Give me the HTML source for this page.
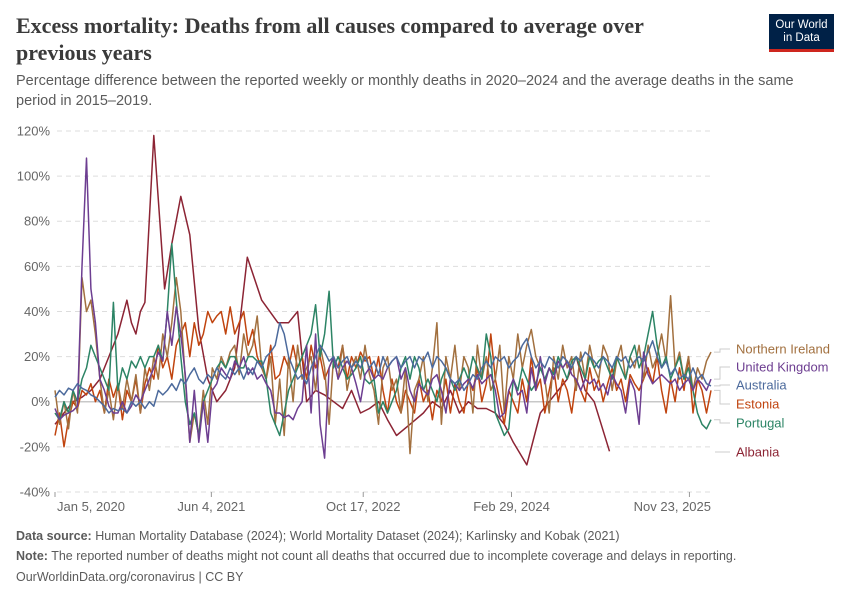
<!DOCTYPE html>
<html><head><meta charset="utf-8"><style>
body{margin:0;background:#fff;width:850px;height:600px;overflow:hidden;font-family:"Liberation Sans",sans-serif;}
.t{position:absolute;}
</style></head><body>
<div class="t" style="left:16px;top:12px;width:670px;font-family:'Liberation Serif',serif;font-weight:bold;font-size:22px;line-height:27px;color:#3a3a3a">Excess mortality: Deaths from all causes compared to average over previous years</div>
<div class="t" style="left:16px;top:72px;width:800px;font-size:14.5px;line-height:19.5px;color:#5b5b5b">Percentage difference between the reported weekly or monthly deaths in 2020–2024 and the average deaths in the same period in 2015–2019.</div>
<div class="t" style="left:769px;top:14px;width:65px;height:38px;background:#002147;border-bottom:3px solid #ce261e;box-sizing:border-box;color:#fff;font-size:11.5px;line-height:13px;text-align:center;padding-top:5px">Our World<br>in Data</div>
<svg class="t" style="left:0;top:0" width="850" height="600" id="chart"></svg>
<div class="t" style="left:16px;top:529px;font-size:12.5px;color:#5b5b5b"><b>Data source:</b> Human Mortality Database (2024); World Mortality Dataset (2024); Karlinsky and Kobak (2021)</div>
<div class="t" style="left:16px;top:549px;font-size:12.5px;color:#5b5b5b"><b>Note:</b> The reported number of deaths might not count all deaths that occurred due to incomplete coverage and delays in reporting.</div>
<div class="t" style="left:16px;top:570px;font-size:12.5px;color:#5b5b5b">OurWorldinData.org/coronavirus | CC BY</div>
<script>
const yTicks=[120,100,80,60,40,20,0,-20,-40];
const xTickLabels=["Jan 5, 2020","Jun 4, 2021","Oct 17, 2022","Feb 29, 2024","Nov 23, 2025"];
const xTickMonths=[0,17.4,34.3,50.8,70.6];
const seriesNames=["Albania","Estonia","Northern Ireland","Portugal","United Kingdom","Australia"];
const ukValues=[-3,-8,-6,-5,-4,-2,60,108,50,35,10,5,-2,-5,-5,0,-5,-2,3,0,5,10,15,22,18,40,25,42,30,12,-18,5,-18,0,-18,5,8,15,12,10,18,15,20,12,15,10,12,8,5,-5,-5,-7,-6,-8,-3,0,25,-5,30,-10,-25,15,20,10,15,18,15,8,0,12,15,10,12,10,15,18,20,10,15,5,0,8,5,3,10,12,5,-5,10,8,5,8,10,6,12,8,10,12,5,-7,-5,5,10,3,5,-5,15,5,20,8,15,10,18,15,18,12,10,5,10,8,10,5,8,3,12,8,5,-5,10,5,-10,22,12,8,10,12,10,8,10,5,8,10,5,10,8,5,10];
const niValues=[5,-10,0,-12,5,-5,55,40,45,30,10,-5,5,-8,8,-3,10,0,12,-5,15,5,20,10,30,20,35,55,40,10,-18,-5,-15,5,-10,15,10,20,15,22,25,12,30,20,25,38,15,10,20,-10,10,-15,20,0,25,10,15,20,5,25,15,-10,20,10,25,5,15,20,10,25,12,5,-10,15,20,5,10,-5,15,-23,5,10,20,0,15,35,-10,20,10,25,5,20,15,-5,25,10,20,5,10,25,-5,20,10,30,15,25,32,20,15,10,-5,20,10,25,15,20,5,22,10,25,15,10,25,20,5,18,25,10,20,15,25,10,25,15,20,30,18,47,15,22,10,20,5,15,10,18,22];
const estoniaValues=[-15,-5,-20,-8,0,-3,5,3,8,0,5,-5,10,2,8,-8,5,0,10,-5,8,15,10,25,15,20,10,25,30,35,20,35,25,30,40,35,38,40,30,42,30,35,40,25,32,20,15,10,25,10,12,20,15,25,15,20,10,25,15,20,10,15,20,15,25,10,20,15,22,18,20,10,20,5,-5,10,0,-5,5,0,-5,10,0,5,-8,5,0,10,-5,8,0,-5,10,5,15,0,8,30,10,0,-10,5,0,-5,10,0,20,5,10,-5,5,15,0,10,5,-5,10,5,0,15,5,10,0,8,15,5,10,0,12,8,5,10,15,8,20,5,-5,10,0,15,5,20,-5,10,5,-5,5];
const portugalValues=[-5,-8,0,-5,5,0,10,15,25,20,15,10,5,44,5,15,10,18,15,20,15,20,20,25,18,40,70,45,20,0,-10,-5,-15,0,5,10,15,18,15,20,20,15,15,20,20,18,18,10,-5,-10,-15,-5,5,10,15,20,25,30,43,20,30,49,15,20,15,10,12,15,20,10,8,10,-5,0,-5,0,5,15,20,10,20,15,5,10,5,0,10,15,10,5,10,15,10,20,15,10,30,20,-5,-10,-15,-12,10,5,15,10,5,8,15,10,15,12,20,15,10,18,20,15,10,20,15,18,20,15,10,20,15,10,20,25,15,20,30,40,25,15,20,10,15,20,10,15,5,-5,-10,-12,-8];
const australiaValues=[2,5,3,6,5,8,6,5,3,2,0,-2,-5,-3,-4,-3,-5,0,-2,0,-3,0,-2,5,3,5,8,5,10,8,12,15,10,8,12,10,15,12,10,15,12,15,10,15,12,18,15,20,22,25,35,30,20,15,10,12,8,15,20,25,22,18,20,15,18,20,15,18,15,20,15,18,12,20,15,18,20,15,18,20,15,20,18,22,15,20,18,15,10,8,10,5,8,12,10,15,18,15,20,18,20,15,18,20,25,28,20,15,18,15,20,18,15,20,18,15,20,18,22,20,18,15,20,18,15,20,18,20,15,18,20,18,22,27,20,15,18,12,15,10,12,10,15,10,12,8,7];
const albaniaMonths=[0,1,2,3,4,5,6,7,8,8.5,9,9.5,10,11,12.2,13,14,15,16,17,18,19,20,21.4,23,24.8,26,27,28,29,30,31,32,33,34,35,36,37,38,39.5,41,42,43,44,45,46,47,48,49,50,51,52.5,54,55,56,57,58,59,60,61.7];
const albaniaValues=[-10,-5,0,2,5,10,20,30,45,35,30,40,44,118,50,70,91,74,32,10,0,5,15,64,45,35,35,40,0,5,3,0,-3,5,-5,-3,0,-8,-15,-10,-5,0,-3,5,-5,0,-3,-3,-5,-10,-18,-28,-5,0,5,10,20,5,0,-22];
const weeklyStep=0.5;
const labelY=[452,404,349,423,367,385];
const colors=["#8c2434","#c0440f","#a2703f","#2c8465","#6d3e91","#4c6a9c"];

const NS="http://www.w3.org/2000/svg";
const svg=document.getElementById('chart');
const X0=55,X1=711,MEND=73;
function x(m){return X0+m*(X1-X0)/MEND;}
function y(v){return 401.7-v*2.256;}
function mk(tag,attrs){const e=document.createElementNS(NS,tag);for(const k in attrs)e.setAttribute(k,attrs[k]);svg.appendChild(e);return e;}
yTicks.forEach(t=>{
  const g=mk('line',{x1:57,x2:711,y1:y(t),y2:y(t),stroke:t===0?'#c8c8c8':'#dddddd','stroke-width':t===0?1.5:1,'stroke-dasharray':t===0?'none':'5,4'});
  
  
  const tx=mk('text',{x:50,y:y(t)+4.5,'text-anchor':'end','font-size':13,fill:'#666','font-family':'Liberation Sans, sans-serif'});
  tx.textContent=t+'%';
  
  
});
xTickLabels.forEach((l,i)=>{
  const xm=x(xTickMonths[i]);
  const tk=mk('line',{x1:xm,x2:xm,y1:492,y2:497,stroke:'#999'});
  
  
  const anchor=i===0?'start':(i===xTickLabels.length-1?'end':'middle');
  const tx=mk('text',{x:i===0?57:(i===xTickLabels.length-1?711:xm),y:511,'text-anchor':anchor,'font-size':13,fill:'#666','font-family':'Liberation Sans, sans-serif'});
  tx.textContent=l;
  
  
});
const weekly=[null,estoniaValues,niValues,portugalValues,ukValues,australiaValues];
seriesNames.forEach((name,si)=>{
  let pts=[];
  if(si===0){albaniaValues.forEach((v,i)=>pts.push([x(albaniaMonths[i]),y(v)]));}
  else{weekly[si].forEach((v,i)=>pts.push([x(i*weeklyStep),y(v)]));}
  const p=mk('polyline',{points:pts.map(q=>q[0].toFixed(1)+','+q[1].toFixed(1)).join(' '),fill:'none',stroke:colors[si],'stroke-width':1.5,'stroke-linejoin':'round'});
  
  
  const last=pts[pts.length-1];
  const c=mk('polyline',{points:`${last[0]+3},${last[1]} ${720},${last[1]} ${720},${labelY[si]} ${730},${labelY[si]}`,fill:'none',stroke:'#ccc','stroke-width':1});
  if(si===0){c.setAttribute('points',`715,${labelY[si]} 730,${labelY[si]}`);}
  
  
  const t=mk('text',{x:736,y:labelY[si]+4.5,'font-size':13,fill:colors[si],'font-family':'Liberation Sans, sans-serif'});
  t.textContent=name;
  
  
});
</script>
</body></html>
